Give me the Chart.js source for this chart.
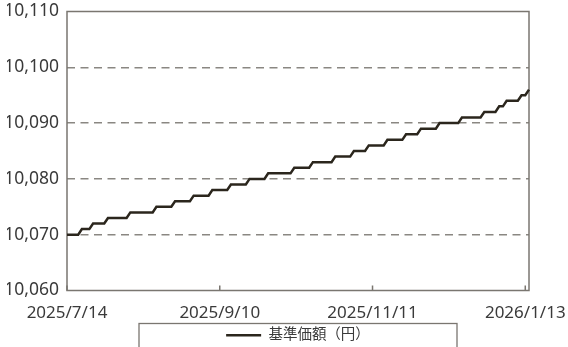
<!DOCTYPE html>
<html lang="ja">
<head>
    <meta charset="UTF-8">
    <title>基準価額</title>
    <style>
        body { margin: 0; background: #fff; }
        #wrap { width: 568px; height: 347px; }
    </style>
</head>
<body>
    <div id="wrap"><canvas id="navChart"></canvas></div>

    <script src="https://cdn.jsdelivr.net/npm/chart.js@4/dist/chart.umd.min.js"></script>
    <script>
    // daily base price (yen), one value per business day
    const navValues = [
        10070, 10070, 10070, 10070, 10071, 10071, 10071, 10072, 10072, 10072,
        10072, 10073, 10073, 10073, 10073, 10073, 10073, 10074, 10074, 10074,
        10074, 10074, 10074, 10074, 10075, 10075, 10075, 10075, 10075, 10076,
        10076, 10076, 10076, 10076, 10077, 10077, 10077, 10077, 10077, 10078,
        10078, 10078, 10078, 10078, 10079, 10079, 10079, 10079, 10079, 10080,
        10080, 10080, 10080, 10080, 10081, 10081, 10081, 10081, 10081, 10081,
        10081, 10082, 10082, 10082, 10082, 10082, 10083, 10083, 10083, 10083,
        10083, 10083, 10084, 10084, 10084, 10084, 10084, 10085, 10085, 10085,
        10085, 10086, 10086, 10086, 10086, 10086, 10087, 10087, 10087, 10087,
        10087, 10088, 10088, 10088, 10088, 10089, 10089, 10089, 10089, 10089,
        10090, 10090, 10090, 10090, 10090, 10090, 10091, 10091, 10091, 10091,
        10091, 10091, 10092, 10092, 10092, 10092, 10093, 10093, 10094, 10094,
        10094, 10094, 10095, 10095, 10096
    ];
    const tickDates = ["2025/7/14", "2025/9/10", "2025/11/11", "2026/1/13"];
    const tickIndex = [0, 41, 82, 123];
    const seriesName = "基準価額（円）";
    const yMin = 10060, yMax = 10110, yStep = 10;

    const labels = navValues.map((v, i) => {
        const k = tickIndex.indexOf(i);
        return k >= 0 ? tickDates[k] : "";
    });

    const textColor = "#3a3a3a";
    const frameColor = "#7a7670";

    // plot frame, inner tick marks and the legend box
    const framePlugin = {
        id: "framePlugin",
        beforeDatasetsDraw(chart) {
            const {ctx, chartArea: a} = chart;
            const x = chart.scales.x;
            ctx.save();
            ctx.strokeStyle = frameColor;
            ctx.lineWidth = 1.5;
            ctx.strokeRect(a.left, a.top, a.right - a.left, a.bottom - a.top);
            ctx.beginPath();
            tickIndex.forEach(i => {
                const px = x.getPixelForValue(i);
                ctx.moveTo(px, a.bottom);
                ctx.lineTo(px, a.bottom - 5);
            });
            ctx.stroke();
            ctx.restore();
        },
        afterDraw(chart) {
            const {ctx, chartArea: a} = chart;
            const lg = chart.legend;
            const cx = (a.left + a.right) / 2;
            ctx.save();
            ctx.strokeStyle = frameColor;
            ctx.lineWidth = 1.3;
            ctx.strokeRect(cx - 159, lg.top - 0.5, 318, 40);
            ctx.restore();
        }
    };

    Chart.defaults.font.family = "'Noto Sans', 'Noto Sans CJK JP', sans-serif";
    Chart.defaults.color = textColor;

    new Chart(document.getElementById("navChart"), {
        type: "line",
        data: {
            labels: labels,
            datasets: [{
                label: seriesName,
                data: navValues,
                borderColor: "#2b261d",
                backgroundColor: "#2b261d",
                borderWidth: 2.5,
                pointRadius: 0,
                pointStyle: "line",
                tension: 0
            }]
        },
        options: {
            responsive: true,
            maintainAspectRatio: false,
            animation: false,
            devicePixelRatio: 1,
            layout: { padding: { left: 7, right: 39, top: 11.5, bottom: -5.5 } },
            scales: {
                x: {
                    type: "category",
                    grid: { display: false, drawTicks: false },
                    border: { display: false },
                    ticks: {
                        autoSkip: false,
                        maxRotation: 0,
                        padding: 12,
                        font: { size: 17 },
                        color: textColor
                    },
                    afterFit: s => { s.height = 33.5; }
                },
                y: {
                    min: yMin,
                    max: yMax,
                    grid: {
                        drawTicks: false,
                        lineWidth: 1.5,
                        color: c => (c.tick.value === yMin || c.tick.value === yMax) ? "transparent" : "#8a8782"
                    },
                    border: { display: false, dash: [8, 5.5] },
                    ticks: {
                        stepSize: yStep,
                        padding: 8,
                        font: { size: 17.5, lineHeight: 0.4 },
                        color: textColor,
                        callback: v => v.toLocaleString("en-US")
                    },
                    afterFit: s => { s.width = 60; }
                }
            },
            plugins: {
                legend: {
                    position: "bottom",
                    fullSize: false,
                    labels: {
                        usePointStyle: true,
                        pointStyleWidth: 35,
                        boxHeight: 14,
                        padding: 4,
                        font: { size: 14.5 },
                        color: textColor
                    }
                },
                tooltip: { enabled: false }
            }
        },
        plugins: [framePlugin]
    });
    </script>
</body>
</html>
